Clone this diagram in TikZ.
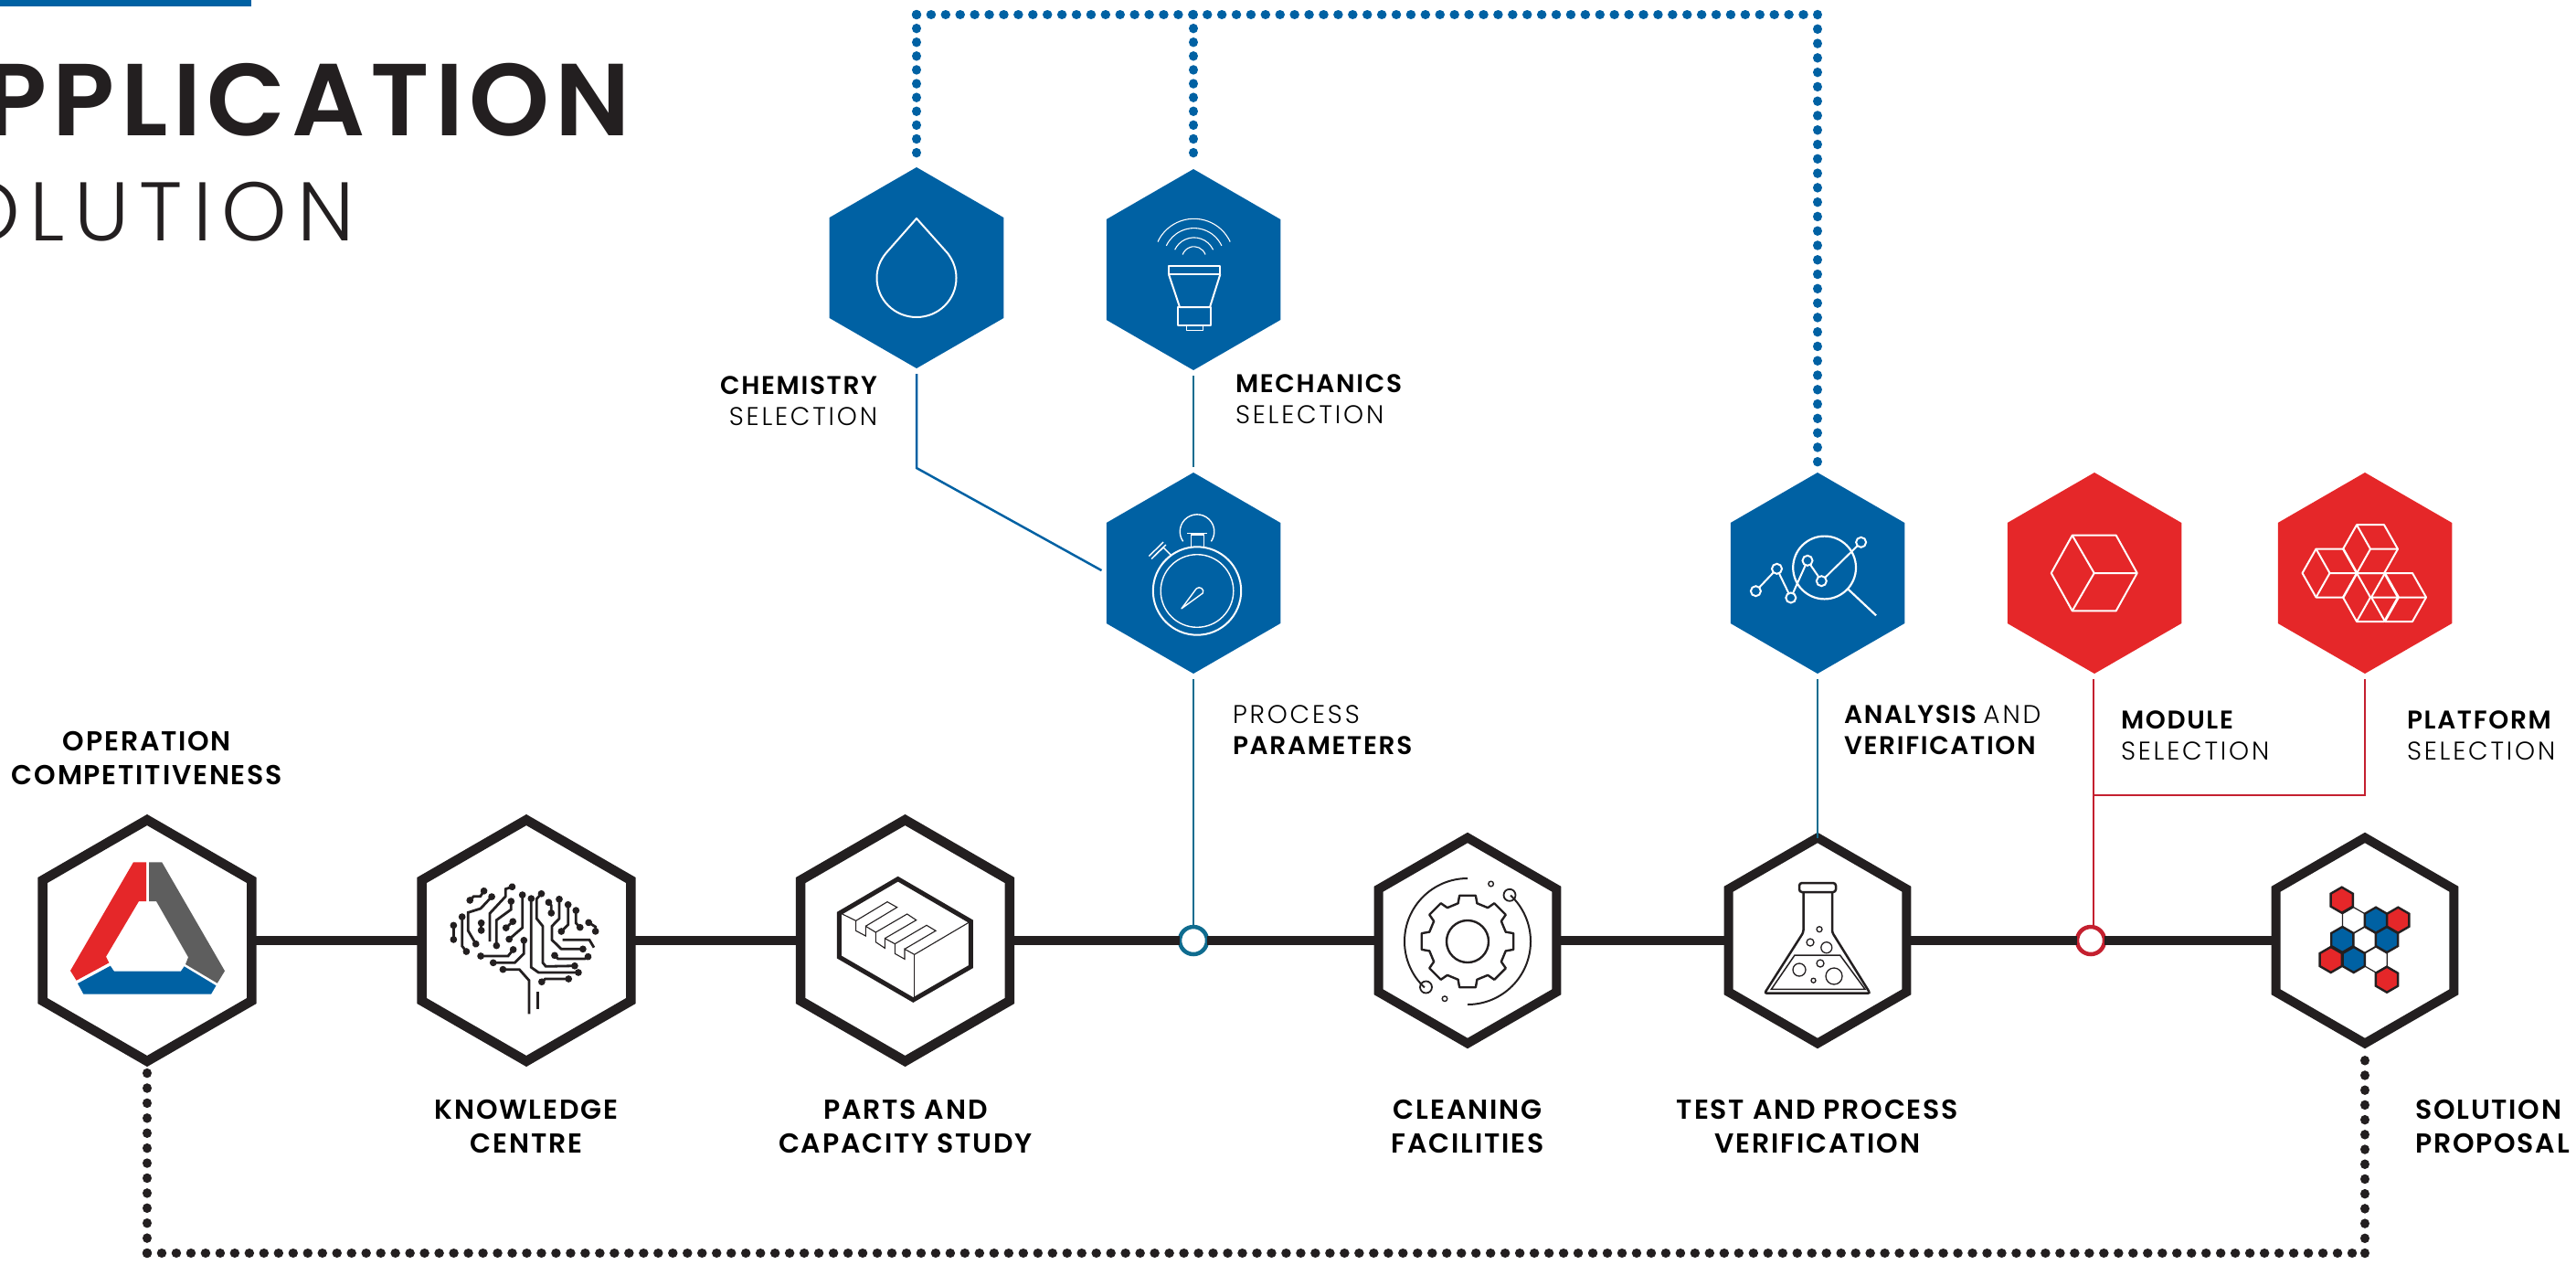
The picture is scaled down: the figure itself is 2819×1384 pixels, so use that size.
\documentclass[tikz,border=0pt]{standalone}
\usepackage{fontspec}
\usetikzlibrary{shapes.geometric,arrows.meta}
\setmainfont{Poppins}
\newfontfamily\lightf[LetterSpace=10]{Poppins Light}
\newfontfamily\boldf[LetterSpace=6]{Poppins SemiBold}
\newfontfamily\titlef[LetterSpace=5.5]{Poppins SemiBold}
\newfontfamily\subf[LetterSpace=12]{Poppins Light}
\definecolor{ink}{HTML}{231F20}
\definecolor{bluehex}{HTML}{0061A3}
\definecolor{redhex}{HTML}{E52729}
\definecolor{tealline}{HTML}{0F6C8F}
\definecolor{redline}{HTML}{C4202F}
\definecolor{logogray}{HTML}{5E5E5E}
\tikzset{
  hexbase/.style={regular polygon,regular polygon sides=6,shape border rotate=30,inner sep=0pt,outer sep=0pt},
  hexbig/.style={hexbase,draw=ink,fill=white,line width=10.5pt,minimum size=264pt},
  hexmid/.style={hexbase,draw=ink,fill=white,line width=10pt,minimum size=225pt},
  hexblue/.style={hexbase,fill=bluehex,minimum size=220pt},
  hexred/.style={hexbase,fill=redhex,minimum size=220pt},
  junction/.style={circle,fill=white,line width=4.5pt,inner sep=0pt,outer sep=0pt,minimum size=30pt},
  mainline/.style={draw=ink,line width=10.5pt},
  thin conn/.style={line width=2.5pt,shorten <=6pt},
  bluedots/.style={draw=bluehex,line width=10.5pt,line cap=round,dash pattern=on 0.01pt off #1},
  inkdots/.style={draw=ink,line width=10.5pt,line cap=round,dash pattern=on 0.01pt off #1},
  lab/.style={inner sep=0pt,outer sep=0pt,text=black,font=\fontsize{30}{37.5}\selectfont},
  labside/.style={inner sep=0pt,outer sep=0pt,text=black,font=\fontsize{28}{34.5}\selectfont},
  title/.style={inner sep=0pt,outer sep=0pt,text=ink,anchor=base east},
  icon/.style={draw=white,line width=2pt,line join=round},
  brainline/.style={draw=ink,line width=2.8pt,{Circle[length=7.5pt]}-{Circle[length=7.5pt]}},
  brainplain/.style={draw=ink,line width=2.8pt},
}
\newcommand{\lgt}[1]{{\lightf #1}}
\newcommand{\bld}[1]{{\boldf #1}}
\newcommand{\isocube}[5]{%
  \draw[icon] (#1,#2) +(-#4,-#5) -- +(#4,-#5) -- +(#3,0) -- +(#4,#5) -- +(-#4,#5) -- +(-#3,0) -- cycle;
  \draw[icon] (#1,#2) +(-#4,-#5) -- +(0,0) -- +(#3,0) +(0,0) -- +(-#4,#5);}
\newcommand{\smallhex}[3]{%
  \filldraw[fill=#3,draw=ink,line width=2.4pt,line join=miter] (#1,#2) +(0,-14) -- +(12.1,-7) -- +(12.1,7) -- +(0,14) -- +(-12.1,7) -- +(-12.1,-7) -- cycle;}
\begin{document}
\begin{tikzpicture}[x=1pt,y=-1pt]
\useasboundingbox (0,0) rectangle (2819,1384);
% header
\fill[bluehex] (0,0) rectangle (275,7);
\node[title,font=\fontsize{112}{112}\selectfont\titlef] (ttl) at (690,148) {PPLICATION};
\node[title,font=\fontsize{91}{91}\selectfont\subf] (sub) at (388,263) {OLUTION};
% coordinates
\coordinate (tl) at (1003,16);
\coordinate (tr) at (1989,16);
\coordinate (bl) at (161,1371);
\coordinate (br) at (2588,1371);
\coordinate (chemk) at (1003,512);
\coordinate (redj) at (2291,870);
% nodes on main line
\node[hexbig] (h1) at (161,1029) {};
\node[hexbig] (h2) at (576,1029) {};
\node[hexbig] (h3) at (990.5,1029) {};
\node[junction,draw=tealline] (j1) at (1306,1029) {};
\node[hexmid] (h4) at (1606,1029) {};
\node[hexmid] (h5) at (1989,1029) {};
\node[junction,draw=redline] (j2) at (2288,1029) {};
\node[hexmid] (h6) at (2588,1029) {};
% upper hexagons
\node[hexblue] (chem) at (1003,293) {};
\node[hexblue] (mech) at (1306,295) {};
\node[hexblue] (stop) at (1306,627) {};
\node[hexblue] (ana) at (1989,627) {};
\node[hexred] (mod) at (2292,627) {};
\node[hexred] (plat) at (2588,627) {};
% main connectors
\draw[mainline] (h1.east) -- (h2.west);
\draw[mainline] (h2.east) -- (h3.west);
\draw[mainline] (h3.east) -- (j1.west);
\draw[mainline] (j1.east) -- (h4.west);
\draw[mainline] (h4.east) -- (h5.west);
\draw[mainline] (h5.east) -- (j2.west);
\draw[mainline] (j2.east) -- (h6.west);
% thin connectors
\draw[thin conn,draw=bluehex,shorten >=6pt] (chem.south) -- (chemk) -- (stop.west);
\draw[thin conn,draw=tealline,shorten >=6pt] (mech.south) -- (stop.north);
\draw[thin conn,draw=tealline] (stop.south) -- (j1.north);
\draw[thin conn,draw=tealline] (ana.south) -- (h5.north);
\draw[thin conn,draw=redline] (mod.south -| redj) -- (j2.north -| redj);
\draw[thin conn,draw=redline] (plat.south) -- (plat.south |- redj) -- (redj);
% dotted connectors
\draw[bluedots=15.9pt] (tl) -- (tr);
\draw[bluedots=15.1pt,shorten >=15pt] (tl) -- (chem.north);
\draw[bluedots=15.1pt,shorten >=15pt] (mech.north |- tl) -- (mech.north);
\draw[bluedots=15.77pt,shorten >=9pt] (tr) -- (ana.north);
\draw[inkdots=15.97pt] (bl) -- (br);
\draw[inkdots=16.4pt,shorten >=8pt] (bl) -- (h1.south);
\draw[inkdots=16.2pt,shorten >=10pt] (br) -- (h6.south);
% labels
\node[lab,align=center,anchor=south] (l1) at (161,859) {\bld{OPERATION}\\\bld{COMPETITIVENESS}};
\node[lab,align=center,anchor=south] (l2) at (576,1262) {\bld{KNOWLEDGE}\\\bld{CENTRE}};
\node[lab,align=center,anchor=south] (l3) at (991,1262) {\bld{PARTS AND}\\\bld{CAPACITY STUDY}};
\node[lab,align=center,anchor=south] (l4) at (1606,1262) {\bld{CLEANING}\\\bld{FACILITIES}};
\node[lab,align=center,anchor=south] (l5) at (1989,1262) {\bld{TEST AND PROCESS}\\\bld{VERIFICATION}};
\node[lab,align=left,anchor=south west] (l6) at (2643,1262) {\bld{SOLUTION}\\\bld{PROPOSAL}};
\node[labside,align=right,anchor=south east] (l7) at (960,466) {\bld{CHEMISTRY}\\\lgt{SELECTION}};
\node[labside,align=left,anchor=south west] (l8) at (1352,464) {\bld{MECHANICS}\\\lgt{SELECTION}};
\node[labside,align=left,anchor=south west] (l9) at (1349,826) {\lgt{PROCESS}\\\bld{PARAMETERS}};
\node[labside,align=left,anchor=south west] (l10) at (2018,826) {\bld{ANALYSIS} \lgt{AND}\\\bld{VERIFICATION}};
\node[labside,align=left,anchor=south west] (l11) at (2321,832) {\bld{MODULE}\\\lgt{SELECTION}};
\node[labside,align=left,anchor=south west] (l12) at (2634,832) {\bld{PLATFORM}\\\lgt{SELECTION}};
% logo
\fill[redhex] (146,943.3) -- (160,943.3) -- (160,986) -- (152,986) -- (116,1046.7) -- (119.4,1053.3) -- (83.6,1072.7) -- (77,1062) -- cycle;
\fill[logogray] (163,943.3) -- (177.2,943.3) -- (246,1062.3) -- (237.8,1075.7) -- (203,1055) -- (206,1047.3) -- (171,986) -- (163,986) -- cycle;
\fill[bluehex] (85,1076) -- (120.8,1056.7) -- (124.9,1062.7) -- (197.9,1062.7) -- (201.6,1057.3) -- (236.5,1078.3) -- (231,1087.7) -- (91.4,1087.7) -- cycle;
% brain
\begin{scope}[shift={(480,950)},x=0.3333pt,y=-0.3333pt]
\draw[brainline] (95,113) -- (115,92) -- (137,92) -- (155,65);
\draw[brainline] (182,85) -- (138,132) -- (97,145) -- (97,205) -- (128,258);
\draw[brainplain,{Circle[length=7.5pt]}-] (252,57) -- (220,68) -- (220,92) -- (168,148) -- (168,240);
\draw[brainline] (238,97) -- (238,135) -- (190,170) -- (190,265);
\draw[brainline] (77,148) -- (77,255) -- (98,282);
\draw[brainline] (49,176) -- (49,245);
\draw[brainline] (140,168) -- (140,215);
\draw[brainline] (213,203) -- (252,167);
\draw[brainline] (275,76) -- (275,195) -- (223,240);
\draw[brainline] (280,225) -- (280,280) -- (250,310) -- (168,310);
\draw[brainline] (252,258) -- (228,288) -- (127,288);
\draw[brainplain,{Circle[length=7.5pt]}-] (200,332) -- (265,332) -- (297,368) -- (297,478);
\draw[brainline] (304,88) -- (304,325) -- (328,342) -- (470,342);
\draw[brainline] (345,75) -- (322,100) -- (322,165) -- (342,190) -- (342,310) -- (352,322) -- (458,320);
\draw[brainline] (354,103) -- (370,122) -- (370,158);
\draw[brainline] (396,90) -- (396,165) -- (372,190) -- (372,235) -- (403,265) -- (485,265);
\draw[brainline] (425,108) -- (425,185) -- (395,215);
\draw[brainline] (451,127) -- (451,180) -- (472,202);
\draw[brainline] (483,172) -- (515,192) -- (515,218);
\draw[brainplain] (407,235) -- (495,235) -- (510,260);
\draw[brainline] (373,278) -- (392,297) -- (480,297) -- (500,284);
\draw[brainline] (330,380) -- (350,363) -- (438,363);
\draw[brainplain] (326,405) -- (326,462);
\end{scope}
% parts block
\begin{scope}[shift={(900,950)},x=0.3333pt,y=-0.3333pt]
\draw[draw=ink,line width=5pt,line join=miter] (248,35) -- (487,174) -- (487,323) -- (298,432) -- (55,291) -- (55,148) -- cycle;
\draw[draw=ink,line width=1.1pt,line join=miter] (65,150) -- (110,172) -- (110,205) -- (142,222) -- (142,190) -- (175,210) -- (175,242) -- (205,262) -- (205,230) -- (238,248) -- (238,280) -- (270,298) -- (270,265) -- (302,283) -- (487,174);
\draw[draw=ink,line width=1.1pt] (110,172) -- (213,110) -- (245,128) -- (142,190);
\draw[draw=ink,line width=1.1pt] (175,210) -- (278,150) -- (308,170) -- (205,230);
\draw[draw=ink,line width=1.1pt] (238,248) -- (342,187) -- (372,205) -- (270,265);
\draw[draw=ink,line width=1.1pt] (302,283) -- (302,425);
\end{scope}
% gear
\begin{scope}[shift={(1606,1030)}]
\draw[draw=ink,line width=2.4pt] (0,0) circle[radius=23pt];
\draw[draw=ink,line width=2.4pt,line join=round] (-14:43pt) \foreach \a in {0,45,...,315}{ -- (\a-14:43pt) -- (\a-10:51pt) -- (\a+10:51pt) -- (\a+14:43pt)} -- cycle;
\draw[draw=ink,line width=2pt] (0,-69) arc[start angle=90,end angle=227,radius=69pt];
\draw[draw=ink,line width=2pt] (0,69) arc[start angle=270,end angle=407,radius=69pt];
\draw[draw=ink,line width=1.8pt] (-45.5,50) circle[radius=6.5pt];
\draw[draw=ink,line width=1.8pt] (46,-50.7) circle[radius=6.5pt];
\draw[draw=ink,line width=1.4pt] (25.6,-63) circle[radius=2.8pt];
\draw[draw=ink,line width=1.4pt] (-25,62.7) circle[radius=2.8pt];
\end{scope}
% flask
\draw[draw=ink,line width=2.5pt,rounded corners=3pt] (1969,966) rectangle (2009,976);
\draw[draw=ink,line width=2.5pt,rounded corners=2.5pt] (1973.5,976) -- (1973.5,1020) -- (1931,1086.7) -- (2046.5,1086.7) -- (2005,1020) -- (2005,976);
\draw[draw=ink,line width=1.5pt] (1964,1045) -- (2013.6,1045) -- (2041,1082.3) -- (1938.4,1082.3) -- cycle;
\foreach \x/\y/\r in {1991/1016.7/3,1981/1031/4,1998.8/1036.7/6,1969/1061/7,1992/1054/4,2007/1068/9,1984.5/1072.7/2.5}
  \draw[draw=ink,line width=1.3pt] (\x,\y) circle[radius=\r pt];
% molecule
\begin{scope}[shift={(2490,950)},x=0.3333pt,y=-0.3333pt]
\foreach \x/\y in {257/170,293/235,330/300}
  \filldraw[fill=white,draw=ink,line width=1.2pt] (\x,\y) +(0,-42) -- +(36.5,-21) -- +(36.5,21) -- +(0,42) -- +(-36.5,21) -- +(-36.5,-21) -- cycle;
\end{scope}
\begin{scope}[shift={(2490,950)}]
\smallhex{110}{56.7}{bluehex}\smallhex{73.3}{78}{bluehex}\smallhex{122}{78}{bluehex}\smallhex{85.7}{100}{bluehex}
\smallhex{72.7}{34.7}{redhex}\smallhex{134.3}{56.7}{redhex}\smallhex{60.7}{100}{redhex}\smallhex{122}{121.7}{redhex}
\end{scope}
% drop
\draw[icon] (1003,239) -- (1037,277) .. controls (1043,285) and (1046.5,294) .. (1046.5,304) .. controls (1046.5,328) and (1027,347) .. (1003,347) .. controls (979,347) and (959.5,328) .. (959.5,304) .. controls (959.5,294) and (963,285) .. (969.5,277) -- cycle;
% sensor
\draw[icon] (1279,290.7) rectangle (1335.3,300.2);
\draw[icon] (1279,300.2) -- (1291,336) -- (1324,336) -- (1335.3,300.2);
\draw[icon] (1289.4,336) rectangle (1325,356.3);
\draw[icon,line width=1.4pt] (1298.6,356.3) rectangle (1316.2,361.5);
\foreach \r/\ang in {43.7/65,33.4/65,23.1/65,13.2/70}
  \draw[draw=white,line width=1.1pt] (1306.6,283) +(90-\ang:\r pt) arc[start angle=90-\ang,end angle=90+\ang,radius=\r pt];
% stopwatch
\draw[icon] (1310,646.5) circle[radius=48.2pt];
\draw[icon,line width=1.4pt] (1310,646.5) circle[radius=39.8pt];
\draw[icon,line width=1.4pt] (1303.2,598.5) -- (1303.2,585) -- (1317.3,585) -- (1317.3,598.5);
\draw[icon,line width=1.6pt] (1299.3,583.6) -- (1321,583.6);
\draw[icon,line width=1.4pt] (1310,581.6) +(215:18.75pt) arc[start angle=215,end angle=-35,radius=18.75pt];
\draw[icon,line width=1.4pt] (1281.4,607.3) -- (1271.4,617.1) (1273,598.8) -- (1263,608.6);
\draw[icon,line width=1.4pt] (1275.9,596) -- (1260.1,611.4) (1273.1,593.1) -- (1257.3,608.5);
\draw[icon,line width=1.4pt] (1281.4,607.3) -- (1273,598.8);
\draw[icon,line width=1.4pt] (1293,665.8) -- (1309.2,644) .. controls (1312.7,640.5) and (1318.7,645) .. (1316.2,649) -- cycle;
% analysis
\draw[icon,line width=2.2pt] (1996.6,621) circle[radius=34.4pt];
\draw[icon,line width=2.2pt] (2021.8,644) -- (2053,673.3);
\draw[icon,line width=2pt] (1921.4,646.7) -- (1944.5,622.3) -- (1959.8,654) -- (1978,613.3) -- (1993.3,635.7) -- (2036.6,593.3);
\foreach \x/\y in {1921.4/646.7,1944.5/622.3,1959.8/654,1978/613.3,1993.3/635.7,2036.6/593.3}
  \filldraw[fill=bluehex,draw=white,line width=2pt] (\x,\y) circle[radius=5.5pt];
% cubes
\isocube{2291.7}{627}{47}{24}{41.3}
\isocube{2594}{600.7}{30}{15}{26.5}
\isocube{2549.5}{627}{30}{15}{26.5}
\isocube{2594}{653.5}{30}{15}{26.5}
\isocube{2625}{653.5}{30}{15}{26.5}
\end{tikzpicture}
\end{document}
